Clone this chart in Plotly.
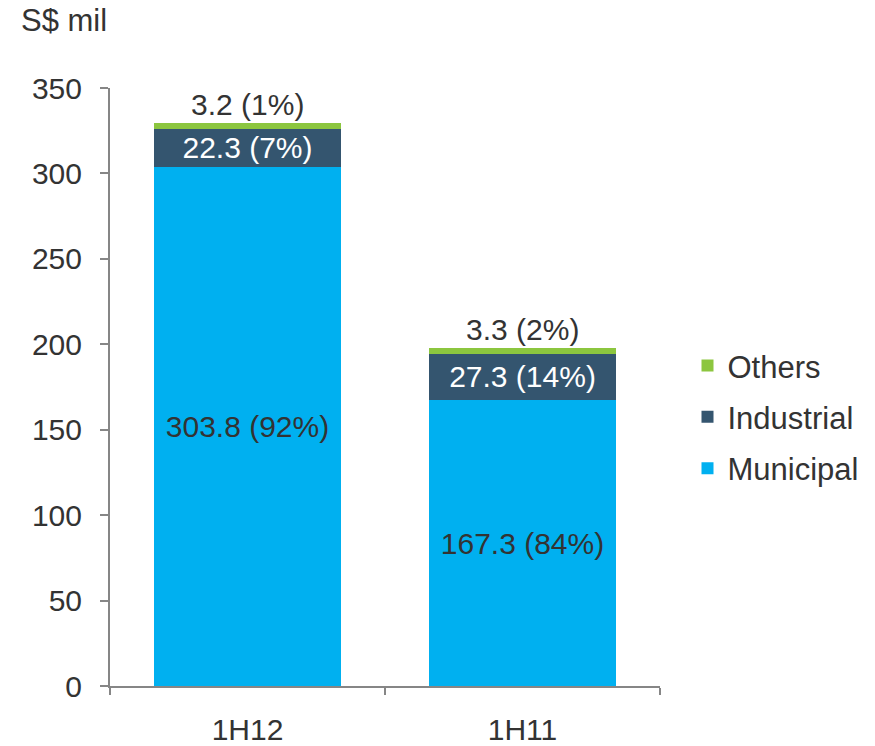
import plotly.graph_objects as go

categories = ["1H12", "1H11"]
municipal = [303.8, 167.3]
industrial = [22.3, 27.3]
others = [3.2, 3.3]
municipal_pct = [92, 84]
industrial_pct = [7, 14]
others_pct = [1, 2]

FONT = "Liberation Sans, Arial, sans-serif"
TXT = "#333333"
AX = "#868686"
FS = 30

def lab(vals, pcts):
    return [f"{v:.1f} ({p}%)" for v, p in zip(vals, pcts)]

fig = go.Figure()
fig.add_trace(go.Bar(x=categories, y=municipal, name="Municipal", legendgroup="m", legendrank=3,
                     marker=dict(color="#00B0F0", line=dict(width=0)),
                     text=lab(municipal, municipal_pct), textposition="inside",
                     insidetextanchor="middle", constraintext="none",
                     textfont=dict(color=TXT, size=FS, family=FONT), hoverinfo="skip"))
fig.add_trace(go.Bar(x=categories, y=industrial, name="Industrial", legendgroup="i", legendrank=2,
                     marker=dict(color="#34556F", line=dict(width=0)),
                     text=lab(industrial, industrial_pct), textposition="inside",
                     insidetextanchor="middle", constraintext="none",
                     textfont=dict(color="white", size=FS, family=FONT), hoverinfo="skip"))
fig.add_trace(go.Bar(x=categories, y=others, name="Others", legendgroup="o", legendrank=1,
                     marker=dict(color="#8CC63F", line=dict(width=0)),
                     hoverinfo="skip"))

totals = [a + b + c for a, b, c in zip(municipal, industrial, others)]
for c, t, txt in zip(categories, totals, lab(others, others_pct)):
    fig.add_annotation(x=c, y=t, text=txt, showarrow=False, yanchor="bottom", yshift=0,
                       font=dict(color=TXT, size=FS, family=FONT))

fig.add_annotation(xref="paper", yref="paper", x=-0.165, y=1.08, xanchor="left", yanchor="bottom",
                   text="S$ mil", showarrow=False, font=dict(color=TXT, size=31, family=FONT))

fig.update_layout(
    width=875, height=746,
    margin=dict(l=110, r=215, t=88, b=60, autoexpand=False),
    barmode="stack", bargap=0.32,
    plot_bgcolor="white", paper_bgcolor="white",
    font=dict(family=FONT, color=TXT, size=FS),
    legend=dict(x=1.05, y=0.45, xanchor="left", yanchor="middle",
                traceorder="grouped", tracegroupgap=8,
                font=dict(size=31, color=TXT, family=FONT), itemwidth=30),
    xaxis=dict(showline=True, linecolor=AX, linewidth=2, ticks="outside", tickson="boundaries",
               ticklen=7, tickcolor=AX, tickwidth=2, showgrid=False, automargin=False,
               tickfont=dict(size=FS, color=TXT, family=FONT), ticklabelstandoff=16),
    yaxis=dict(range=[0, 350], dtick=50, showline=True, linecolor=AX, linewidth=2,
               ticks="outside", ticklen=8, tickcolor=AX, tickwidth=2, showgrid=False,
               zeroline=False, automargin=False, tickfont=dict(size=FS, color=TXT, family=FONT),
               ticklabelstandoff=12),
)

fig.write_html("out.html")
